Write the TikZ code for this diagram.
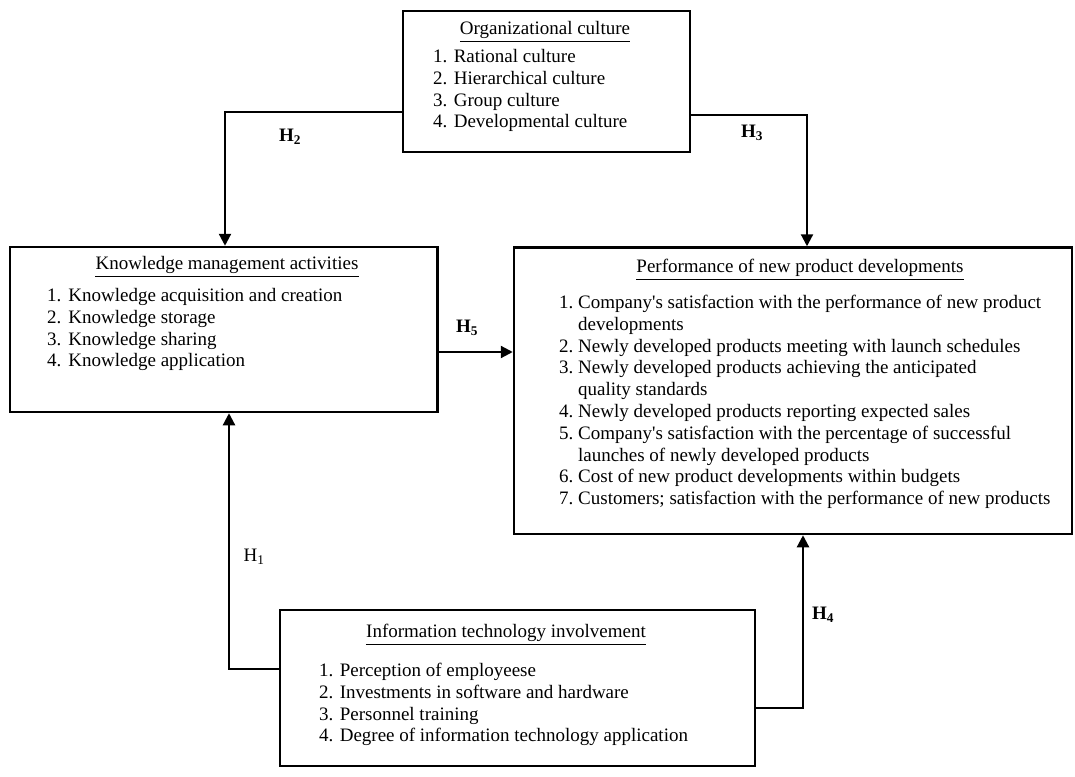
\documentclass[tikz,border=0pt]{standalone}
\usepackage{fontspec}
\setmainfont{Liberation Serif}
\usetikzlibrary{arrows.meta,positioning,calc}

\begin{document}
\begin{tikzpicture}[x=1pt,y=-1pt,
  font=\fontsize{19}{21.8}\selectfont,
  box/.style={draw,line width=2.5pt,inner sep=0pt},
  head/.style={inner xsep=0pt,inner ysep=2.5pt},
  ulin/.style={line width=1.6pt},
  items/.style={inner sep=0pt,anchor=base west},
  link/.style={line width=2.2pt,-{Triangle[length=12pt,width=12pt]}},
  hyp/.style={inner sep=1pt}]
  \useasboundingbox (0,0) rectangle (1075,776);

  %% Construct boxes
  \node[box,minimum width=287,minimum height=141] (org) at (546.5,81.5) {};
  \node[box,minimum width=427.5,minimum height=165] (km) at (223.75,329.5) {};
  \node[box,minimum width=558,minimum height=286.5] (perf) at (793,390.75) {};
  \node[box,minimum width=475,minimum height=156] (it) at (517.5,688) {};

  %% Organizational culture
  \node[head] (orgt) at (545,30) {Organizational culture};
  \draw[ulin] (orgt.south west) -- (orgt.south east);
  \node[items] (orgl) at (433,62.5) {\begin{tabular}[t]{@{}l@{}}
    1. Rational culture\\
    2. Hierarchical culture\\
    3. Group culture\\
    4. Developmental culture
  \end{tabular}};

  %% Knowledge management activities
  \node[head] (kmt) at (227,265) {Knowledge management activities};
  \draw[ulin] (kmt.south west) -- (kmt.south east);
  \node[items] (kml) at (47,301.5) {\begin{tabular}[t]{@{}l@{\hspace{7pt}}l@{}}
    1. & Knowledge acquisition and creation\\
    2. & Knowledge storage\\
    3. & Knowledge sharing\\
    4. & Knowledge application
  \end{tabular}};

  %% Performance of new product developments
  \node[head] (perft) at (800,268) {Performance of new product developments};
  \draw[ulin] (perft.south west) -- (perft.south east);
  \node[items] (perfl) at (559,308.5) {\begin{tabular}[t]{@{}l@{\ }l@{}}
    1. & Company\textquotesingle s satisfaction with the performance of new product\\
       & developments\\
    2. & Newly developed products meeting with launch schedules\\
    3. & Newly developed products achieving the anticipated\\
       & quality standards\\
    4. & Newly developed products reporting expected sales\\
    5. & Company\textquotesingle s satisfaction with the percentage of successful\\
       & launches of newly developed products\\
    6. & Cost of new product developments within budgets\\
    7. & Customers; satisfaction with the performance of new products
  \end{tabular}};

  %% Information technology involvement
  \node[head] (itt) at (506,633) {Information technology involvement};
  \draw[ulin] (itt.south west) -- (itt.south east);
  \node[items] (itl) at (319,676.5) {\begin{tabular}[t]{@{}l@{}}
    1. Perception of employeese\\
    2. Investments in software and hardware\\
    3. Personnel training\\
    4. Degree of information technology application
  \end{tabular}};

  %% Hypothesis links
  \draw[link] ([yshift=-30.5pt]org.west) -| ([xshift=1.25pt]km.north);
  \draw[link] ([yshift=-33.5pt]org.east) -| ([xshift=14pt]perf.north);
  \draw[link] ([yshift=-22.5pt]km.east) coordinate (h5a) -- (h5a -| perf.west);
  \draw[link] ([yshift=19pt]it.west) -| ([xshift=5.25pt]km.south);
  \draw[link] ([yshift=-20pt]it.east) -| ([xshift=10pt]perf.south);

  \node[hyp,font=\fontsize{19}{21.8}\selectfont\bfseries] (h2) at (290,137) {H\textsubscript{2}};
  \node[hyp,font=\fontsize{19}{21.8}\selectfont\bfseries] (h3) at (752,133) {H\textsubscript{3}};
  \node[hyp,font=\fontsize{19}{21.8}\selectfont\bfseries] (h5) at (467,328) {H\textsubscript{5}};
  \node[hyp] (h1) at (254,557) {H\textsubscript{1}};
  \node[hyp,font=\fontsize{19}{21.8}\selectfont\bfseries] (h4) at (823,615) {H\textsubscript{4}};
\end{tikzpicture}
\end{document}
